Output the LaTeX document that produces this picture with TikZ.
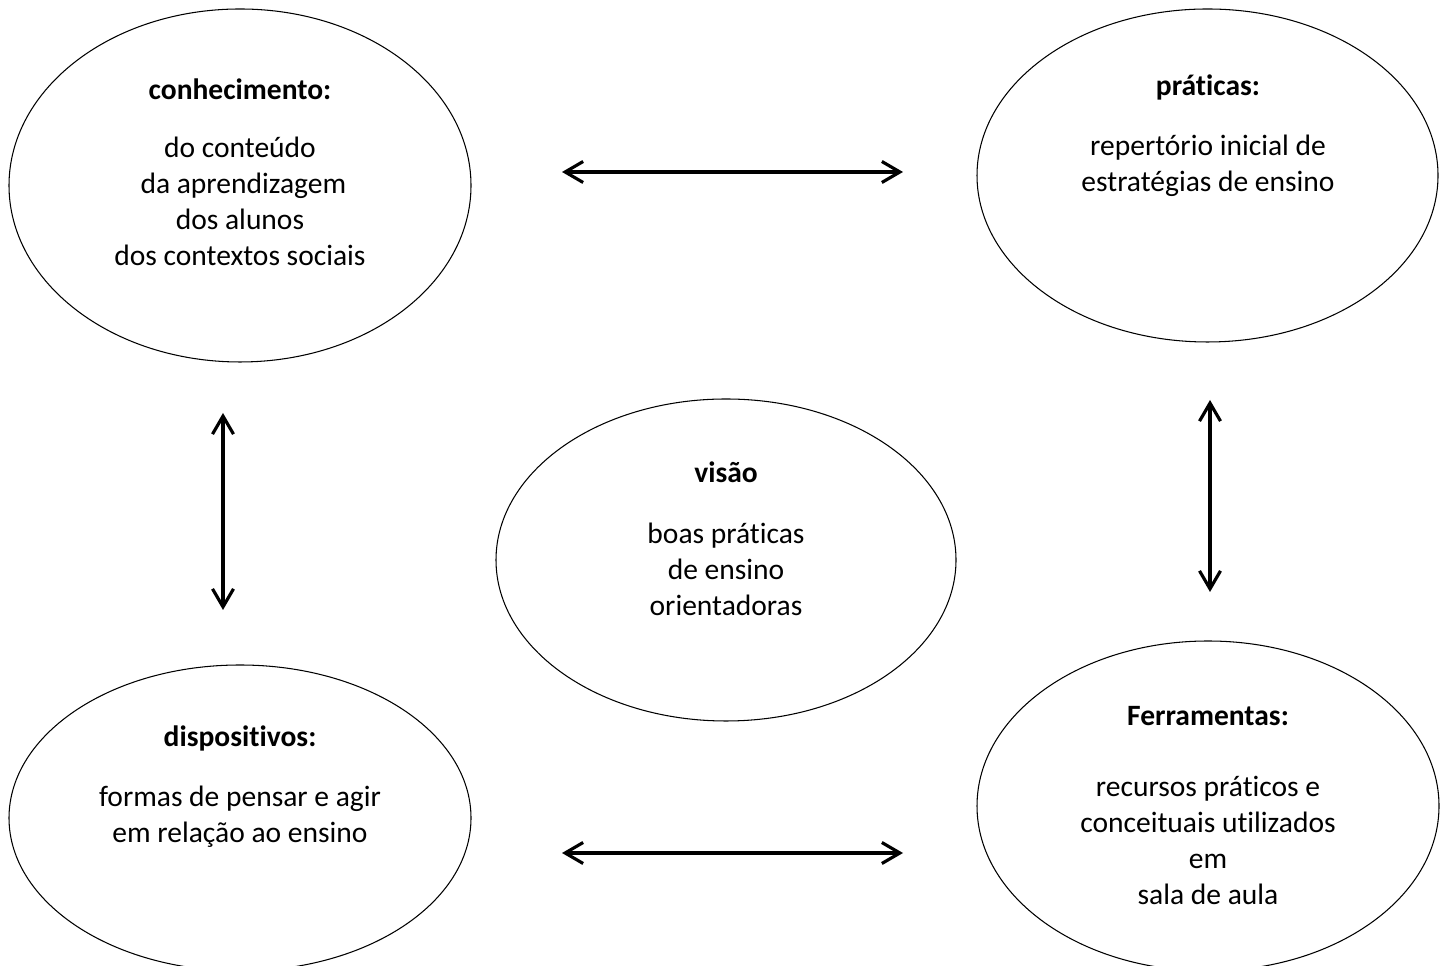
\documentclass[tikz,border=0pt]{standalone}
\usepackage{fontspec}
\setmainfont{Carlito}[Ligatures=NoCommon]
\usetikzlibrary{arrows.meta,shapes.geometric,positioning}

\begin{document}
\begin{tikzpicture}[
  oval/.style={ellipse, draw, line width=0.6pt, inner sep=0pt},
  head/.style={font=\fontsize{16.8}{20.5}\selectfont\bfseries, anchor=base},
  body/.style={font=\fontsize{16.8}{20.5}\selectfont, align=center, anchor=base},
  arr/.style={{Straight Barb[length=3.6mm,width=4.2mm]}-{Straight Barb[length=3.6mm,width=4.2mm]},
    line width=1.8pt}
]
  \useasboundingbox (0,0) rectangle (28.9,19.32);

  % Ellipses
  \node[oval, minimum width=9.24cm, minimum height=7.06cm] (kno) at (4.80, 15.61) {};
  \node[oval, minimum width=9.22cm, minimum height=6.66cm] (pra) at (24.15, 15.81) {};
  \node[oval, minimum width=9.20cm, minimum height=6.44cm] (vis) at (14.52, 8.12) {};
  \node[oval, minimum width=9.24cm, minimum height=6.12cm] (dis) at (4.80, 2.96) {};
  \node[oval, minimum width=9.24cm, minimum height=6.60cm] (fer) at (24.16, 3.20) {};

  % Texts (body nodes sit on the baseline of their last line)
  \node[head] (knoT) at (4.80, 17.32) {conhecimento:};
  \node[body] (knoB) at (4.80, 14.00) {do conteúdo\\~da aprendizagem\\dos alunos\\dos contextos sociais};
  \node[head] (praT) at (24.16, 17.40) {práticas:};
  \node[body] (praB) at (24.16, 15.48) {repertório inicial de\\estratégias de ensino};
  \node[head] (visT) at (14.52, 9.66) {visão};
  \node[body] (visB) at (14.52, 7.00) {boas práticas\\de ensino\\orientadoras};
  \node[head] (disT) at (4.80, 4.38) {dispositivos:};
  \node[body] (disB) at (4.80, 2.46) {formas de pensar e agir\\em relação ao ensino};
  \node[head] (ferT) at (24.16, 4.80) {Ferramentas:};
  \node[body] (ferB) at (24.16, 1.22) {recursos práticos e\\conceituais utilizados\\em\\sala de aula};

  % Arrow ends
  \coordinate (topL) at (11.24, 15.88);
  \coordinate (topR) at (18.06, 15.88);
  \coordinate (botL) at (11.24, 2.26);
  \coordinate (botR) at (18.06, 2.26);
  \coordinate (lefT) at (4.46, 11.06);
  \coordinate (lefB) at (4.46, 7.12);
  \coordinate (rigT) at (24.20, 11.32);
  \coordinate (rigB) at (24.20, 7.48);

  \draw[arr] (topL) -- (topR);
  \draw[arr] (botL) -- (botR);
  \draw[arr] (lefT) -- (lefB);
  \draw[arr] (rigT) -- (rigB);
\end{tikzpicture}
\end{document}
